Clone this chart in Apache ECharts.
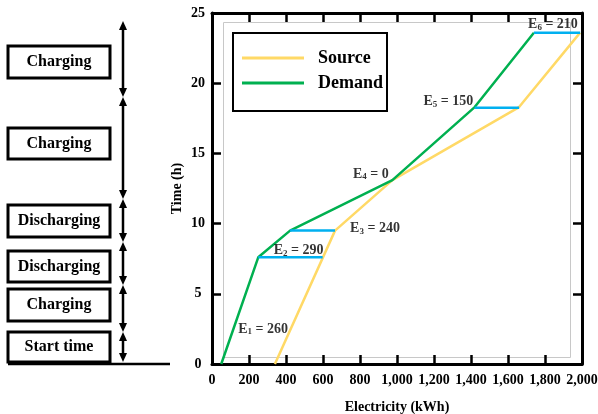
<!DOCTYPE html>
<html>
<head>
<meta charset="utf-8">
<script src="https://cdn.jsdelivr.net/npm/echarts@6/dist/echarts.min.js"></script>
<style>
html,body{margin:0;padding:0;background:#fff;}
#chart{width:598px;height:414px;}
</style>
</head>
<body>
<div id="chart"></div>
<script>
// ---- data ----
const sourceX = [340, 665, 975, 1660, 1990];
const sourceY = [0, 9.5, 13.1, 18.3, 23.6];
const demandX = [50, 250, 422, 975, 1420, 1740];
const demandY = [0, 7.6, 9.5, 13.1, 18.3, 23.6];
const storeY = [7.6, 9.5, 18.25, 23.6];
const storeFrom = [250, 422, 1420, 1740];
const storeTo = [598, 665, 1660, 1990];
const eNames = ['1', '2', '3', '4', '5', '6'];
const eValues = [260, 290, 240, 0, 150, 210];
const eLabelX = [276, 468, 881, 859, 1278, 1843];
const eLabelY = [2.5, 8.1, 9.67, 13.54, 18.7, 24.2];
const boxLabels = ['Charging', 'Charging', 'Discharging', 'Discharging', 'Charging', 'Start time'];

// ---- layout (left annotation panel, pixels) ----
const boxTop = [46, 128, 205, 251, 289, 332];
const boxH = [32, 31, 32, 31, 32, 30];
const arrowBounds = [21, 97, 199, 242, 285, 332, 362];
const serif = '"Liberation Serif","DejaVu Serif",serif';

const chart = echarts.init(document.getElementById('chart'));

const graphic = [];
graphic.push({type:'rect', shape:{x:223.5, y:22.5, width:347, height:335}, style:{fill:'none', stroke:'#c8c8c8', lineWidth:1}, z:0, silent:true});
boxLabels.forEach((t, i) => {
  graphic.push({type:'rect', shape:{x:8, y:boxTop[i], width:102, height:boxH[i]}, style:{fill:'#fff', stroke:'#000', lineWidth:3}});
  graphic.push({type:'text', x:59, y:boxTop[i] + boxH[i] / 2, style:{text:t, textAlign:'center', textVerticalAlign:'middle', font:'bold 16px ' + serif, fill:'#000'}});
});
const ax = 123;
for (let i = 0; i < arrowBounds.length - 1; i++) {
  const a = arrowBounds[i], b = arrowBounds[i + 1];
  graphic.push({type:'line', shape:{x1:ax, y1:a + 4, x2:ax, y2:b - 4}, style:{stroke:'#000', lineWidth:2.5}});
  graphic.push({type:'polygon', shape:{points:[[ax, a], [ax - 4, a + 9], [ax + 4, a + 9]]}, style:{fill:'#000'}});
  graphic.push({type:'polygon', shape:{points:[[ax, b], [ax - 4, b - 9], [ax + 4, b - 9]]}, style:{fill:'#000'}});
}
graphic.push({type:'line', shape:{x1:8, y1:364, x2:170, y2:364}, style:{stroke:'#000', lineWidth:2.5}});

const zip = (xs, ys) => xs.map((x, i) => [x, ys[i]]);
const storeData = [];
storeY.forEach((y, i) => { storeData.push([storeFrom[i], y], [storeTo[i], y], [null, null]); });
const labelData = eNames.map((n, i) => ({value:[eLabelX[i], eLabelY[i]], name:n, ev:eValues[i]}));

const axisCommon = () => ({
  axisLine:{show:true, onZero:false, lineStyle:{color:'#000', width:3}},
  axisTick:{show:true, inside:true, length:9, lineStyle:{color:'#000', width:2.5}},
  splitLine:{show:false},
  nameMoveOverlap:false
});

chart.setOption({
  animation:false,
  backgroundColor:'#fff',
  graphic: graphic,
  grid:{left:212, right:16, top:13, bottom:50, containLabel:false, outerBoundsMode:'none'},
  legend:{
    left:233, top:33, orient:'vertical',
    data:[{name:'Source', icon:'rect'}, {name:'Demand', icon:'rect'}],
    itemWidth:62, itemHeight:3, itemGap:7,
    padding:[16, 4, 19, 9],
    borderColor:'#000', borderWidth:2, backgroundColor:'#fff',
    textStyle:{fontFamily:serif, fontWeight:'bold', fontSize:18, color:'#000', lineHeight:18, padding:[0, 0, 0, 9]}
  },
  xAxis:[
    Object.assign({type:'value', min:0, max:2000, interval:200, position:'bottom',
      name:'Electricity (kWh)', nameLocation:'middle', nameGap:36,
      nameTextStyle:{fontFamily:serif, fontWeight:'bold', fontSize:14, color:'#000'},
      axisLabel:{fontFamily:serif, fontWeight:'bold', fontSize:14, color:'#000', margin:9}}, axisCommon()),
    Object.assign({type:'value', min:0, max:2000, interval:200, position:'top', axisLabel:{show:false}}, axisCommon())
  ],
  yAxis:[
    Object.assign({type:'value', min:0, max:25, interval:5, position:'left',
      name:'Time (h)', nameLocation:'middle', nameGap:28, nameRotate:90,
      nameTextStyle:{fontFamily:serif, fontWeight:'bold', fontSize:14, color:'#000'},
      axisLabel:{fontFamily:serif, fontWeight:'bold', fontSize:14, color:'#000', margin:14, align:'center'}}, axisCommon()),
    Object.assign({type:'value', min:0, max:25, interval:5, position:'right', axisLabel:{show:false}}, axisCommon())
  ],
  series:[
    {name:'Source', type:'line', data:zip(sourceX, sourceY), symbol:'none', lineStyle:{color:'#FFD966', width:2.5}, itemStyle:{color:'#FFD966'}, z:2},
    {name:'Demand', type:'line', data:zip(demandX, demandY), symbol:'none', lineStyle:{color:'#00B050', width:2.5}, itemStyle:{color:'#00B050'}, z:3},
    {name:'Storage', type:'line', data:storeData, symbol:'none', connectNulls:false, lineStyle:{color:'#00B0F0', width:2.5}, z:4},
    {name:'E', type:'scatter', data:labelData, symbolSize:0, z:5,
      label:{show:true, position:'inside', align:'center', verticalAlign:'middle',
        formatter: p => '{e|E}{s|' + p.data.name + '}{e| = ' + p.data.ev + '}',
        rich:{
          e:{fontFamily:serif, fontWeight:'bold', fontSize:14, color:'#000'},
          s:{fontFamily:serif, fontWeight:'bold', fontSize:9, color:'#000', verticalAlign:'bottom', padding:[6, 0, 0, 0]}
        }}}
  ]
});
</script>
</body>
</html>
